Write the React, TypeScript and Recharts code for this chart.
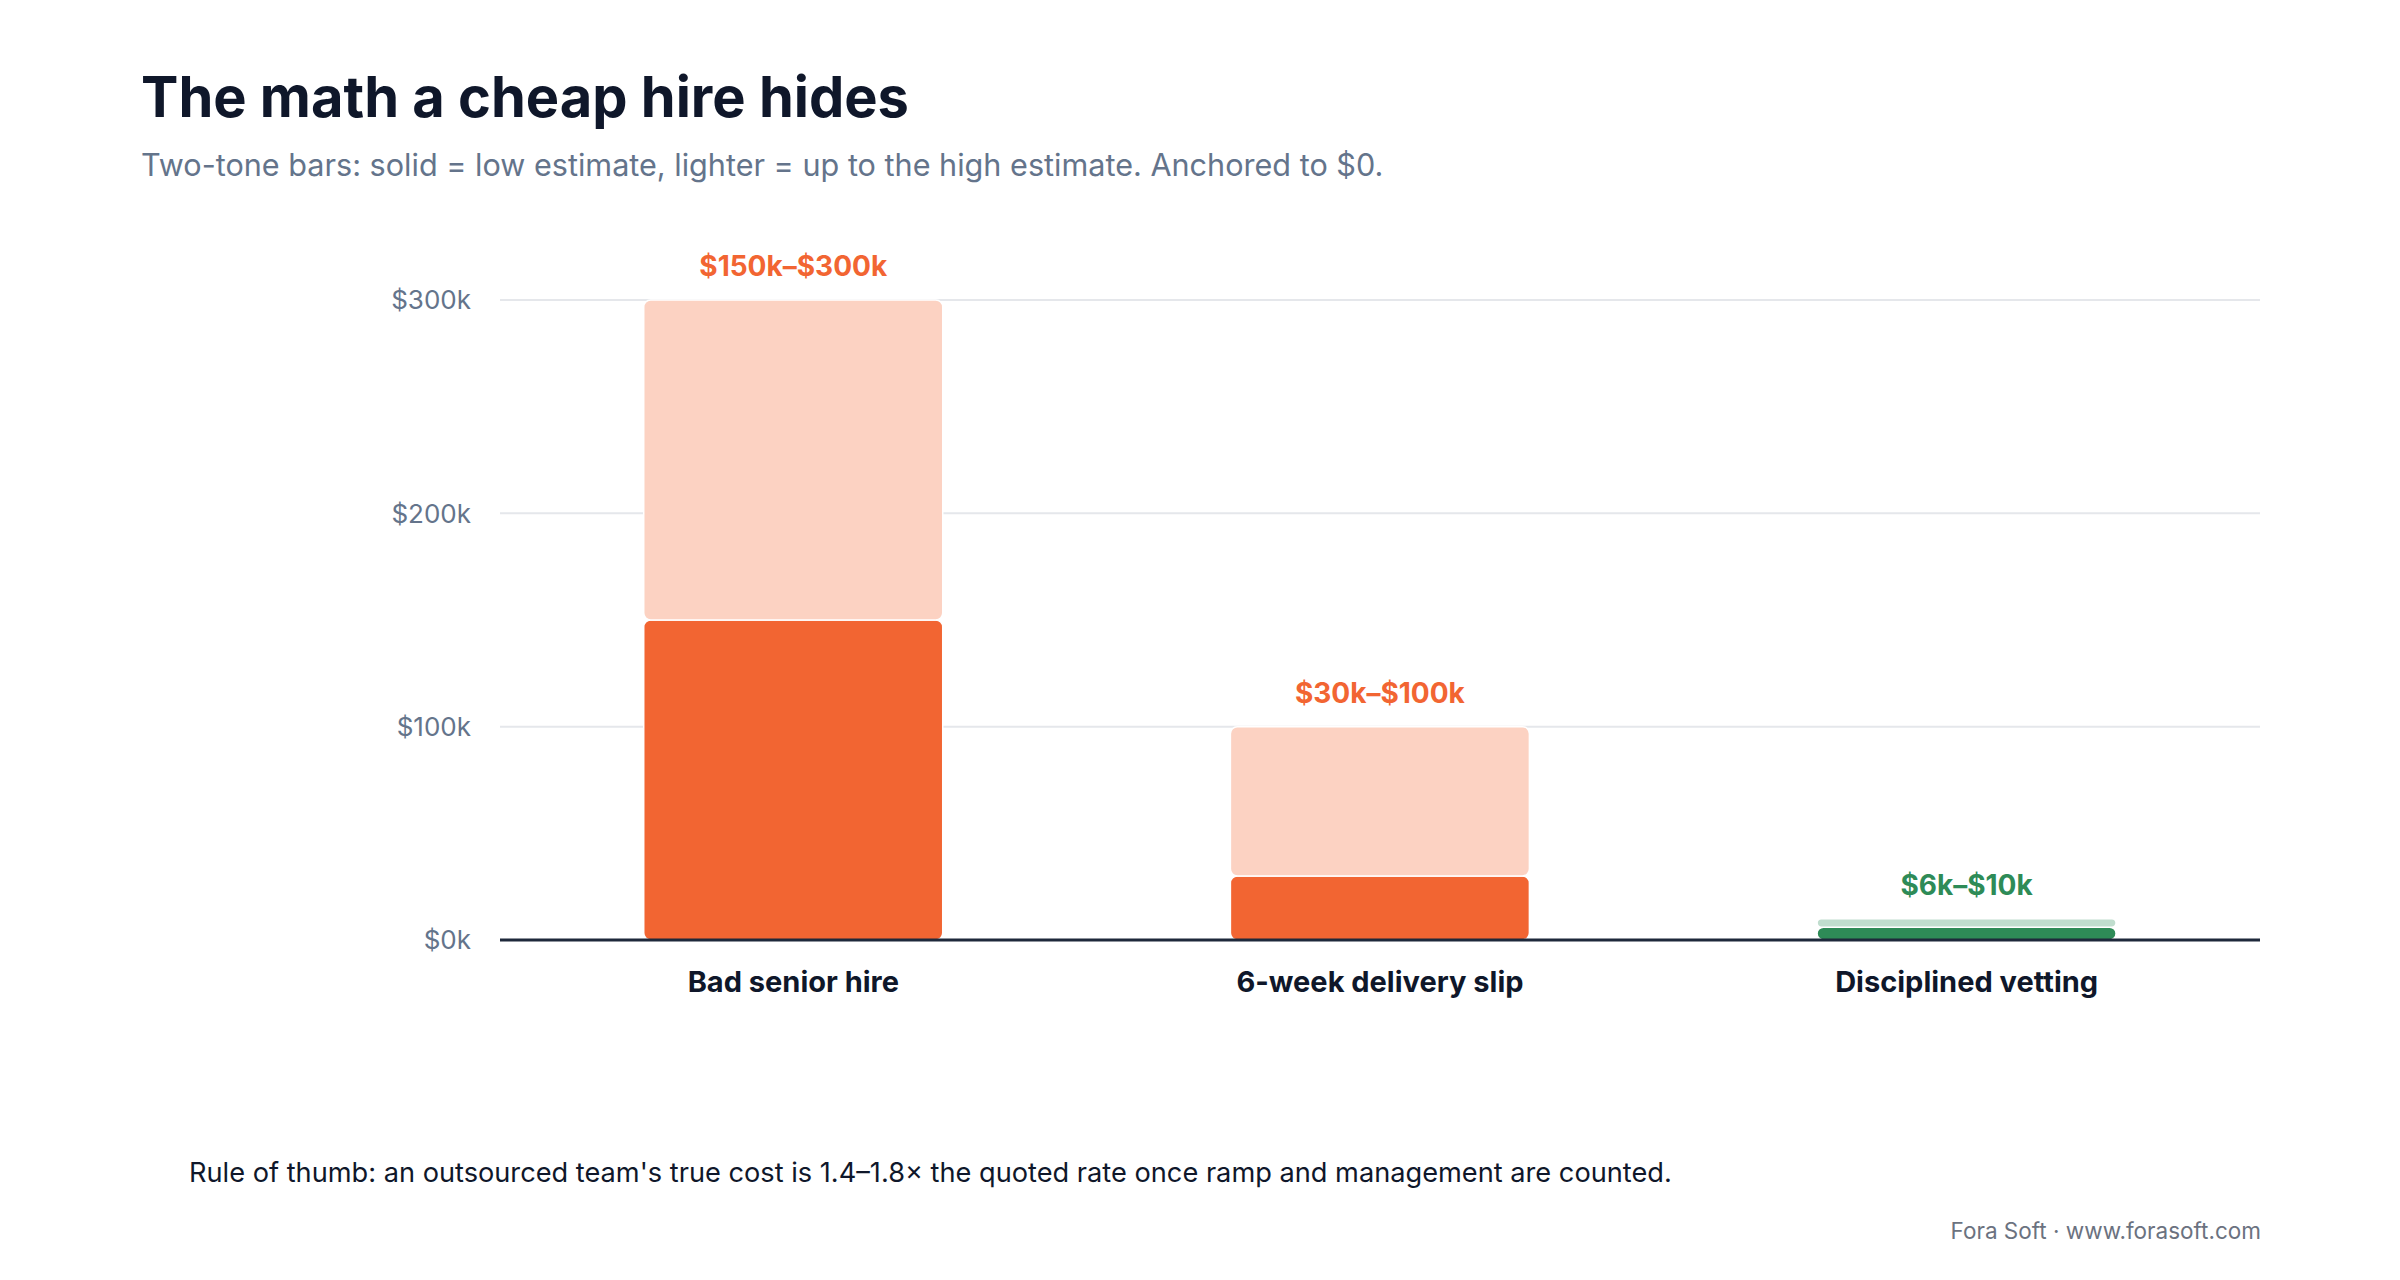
import React from "react"
import { BarChart, Bar, XAxis, YAxis, CartesianGrid, Cell, LabelList } from "recharts"

// values in $k
const categories = ["Bad senior hire", "6-week delivery slip", "Disciplined vetting"]
const lowEstimate = [150, 30, 6]
const highEstimate = [300, 100, 10]
const rangeLabels = ["$150k–$300k", "$30k–$100k", "$6k–$10k"]
const yTicks = [0, 100, 200, 300]

const solidColors = ["#f26532", "#f26532", "#2e8b57"]
const lightColors = ["#fcd2c2", "#fcd2c2", "#c0ddce"]

const chartData = categories.map((name, i) => ({
  name,
  low: lowEstimate[i],
  rest: highEstimate[i] - lowEstimate[i],
  label: rangeLabels[i],
}))

const font = "Inter, 'Noto Sans', sans-serif"

function RangeLabel(props: any) {
  const { x, y, width, index } = props
  return (
    <text
      x={x + width / 2}
      y={y - 24}
      textAnchor="middle"
      fontFamily={font}
      fontSize={28}
      fontWeight={700}
      fill={solidColors[index]}
    >
      {rangeLabels[index]}
    </text>
  )
}

export default function App() {
  return (
    <div
      style={{
        position: "absolute",
        left: 0,
        top: 0,
        width: 2400,
        height: 1280,
        background: "#ffffff",
        fontFamily: font,
        overflow: "hidden",
      }}
    >
      <div
        style={{
          position: "absolute",
          left: 141,
          top: 69,
          fontSize: 56,
          lineHeight: 1,
          fontWeight: 700,
          color: "#0f172a",
          whiteSpace: "nowrap",
        }}
      >
        The math a cheap hire hides
      </div>
      <div
        style={{
          position: "absolute",
          left: 141,
          top: 150,
          fontSize: 30.6,
          lineHeight: 1,
          color: "#64748b",
          whiteSpace: "nowrap",
        }}
      >
        Two-tone bars: solid = low estimate, lighter = up to the high estimate. Anchored to $0.
      </div>

      <div style={{ position: "absolute", left: 0, top: 0 }}>
        <BarChart
          width={2400}
          height={1280}
          data={chartData}
          margin={{ top: 300, right: 140, bottom: 240, left: 400 }}
          barCategoryGap="24.5%"
        >
          <CartesianGrid vertical={false} stroke="#e5e7eb" strokeWidth={2} />
          <YAxis
            width={100}
            domain={[0, 300]}
            ticks={yTicks}
            tickFormatter={(v: number) => `$${v}k`}
            axisLine={false}
            tickLine={false}
            tickSize={0}
            tickMargin={29}
            tick={{ fill: "#64748b", fontSize: 26, fontFamily: font }}
          />
          <XAxis
            dataKey="name"
            height={100}
            axisLine={{ stroke: "#1e293b", strokeWidth: 3 }}
            tickLine={false}
            tickSize={0}
            tickMargin={31}
            tick={{ fill: "#0f172a", fontSize: 29, fontWeight: 700, fontFamily: font }}
          />
          <Bar dataKey="low" stackId="cost" radius={7} stroke="#ffffff" strokeWidth={1.5} isAnimationActive={false}>
            {chartData.map((_, i) => (
              <Cell key={`low-${i}`} fill={solidColors[i]} />
            ))}
          </Bar>
          <Bar dataKey="rest" stackId="cost" radius={7} stroke="#ffffff" strokeWidth={1.5} isAnimationActive={false}>
            {chartData.map((_, i) => (
              <Cell key={`rest-${i}`} fill={lightColors[i]} />
            ))}
            <LabelList dataKey="label" content={RangeLabel} />
          </Bar>
        </BarChart>
      </div>

      <div
        style={{
          position: "absolute",
          left: 189,
          top: 1159,
          fontSize: 27.2,
          lineHeight: 1,
          color: "#0f172a",
          whiteSpace: "nowrap",
        }}
      >
        Rule of thumb: an outsourced team's true cost is 1.4–1.8× the quoted rate once ramp and management are counted.
      </div>
      <div
        style={{
          position: "absolute",
          right: 139,
          top: 1220,
          fontSize: 22.5,
          lineHeight: 1,
          color: "#6b7280",
          whiteSpace: "nowrap",
        }}
      >
        Fora Soft · www.forasoft.com
      </div>
    </div>
  )
}
